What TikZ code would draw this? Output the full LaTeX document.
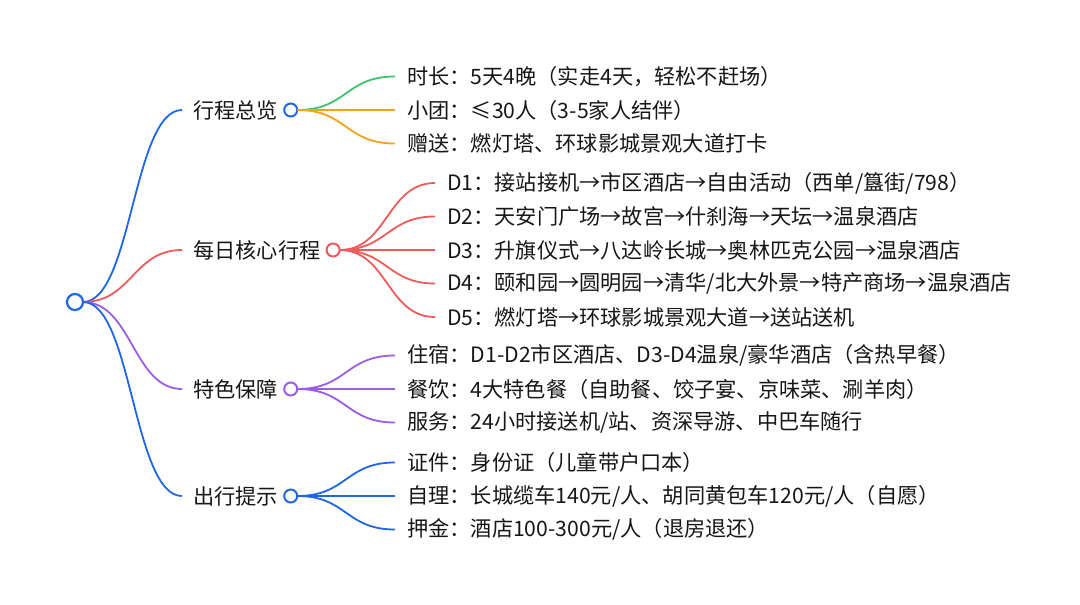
\documentclass[tikz,border=0pt]{standalone}
\usepackage{fontspec}
\setmainfont{Noto Sans CJK SC}
\usepackage{xcolor}
\usetikzlibrary{positioning}

\definecolor{mapblue}{HTML}{1F66E5}
\definecolor{mapred}{HTML}{EF5B5B}
\definecolor{mappurple}{HTML}{9B5DE5}
\definecolor{mapgreen}{HTML}{3DC46E}
\definecolor{maporange}{HTML}{F2A318}
\definecolor{maptext}{HTML}{161616}

\begin{document}
\begin{tikzpicture}[
    x=1pt, y=-1pt,
    node distance = 33.5pt,
    font=\fontsize{21.2pt}{25pt}\selectfont,
    hub/.style = {circle, draw=#1, fill=white, line width=2pt, minimum size=13pt, inner sep=0pt, outer sep=0pt},
    topic/.style = {anchor=west, inner xsep=11pt, inner ysep=0pt, text=maptext},
    leaf/.style = {text width=600pt, align=left, inner xsep=12pt, inner ysep=0pt, text=maptext},
    link/.style = {draw=#1, line width=1.8pt}
]
\useasboundingbox (0,0) rectangle (1080,605);

% Root and main topics
\node (root) [hub=mapblue, minimum size=16pt, line width=2.2pt] at (75,302) {};
\node (b1t) [topic] at (182,110) {行程总览};
\node (b1) [hub=mapblue, right=-5pt of b1t] {};
\node (b2t) [topic] at (182,250) {每日核心行程};
\node (b2) [hub=mapred, right=-5pt of b2t] {};
\node (b3t) [topic] at (182,389) {特色保障};
\node (b3) [hub=mappurple, right=-5pt of b3t] {};
\node (b4t) [topic] at (182,496) {出行提示};
\node (b4) [hub=mapblue, right=-5pt of b4t] {};

% Leaves
\node (l11) [leaf, anchor=west] at (395,76.5) {时长：5天4晚（实走4天，轻松不赶场）};
\node (l12) [leaf, below of=l11] {小团：≤30人（3-5家人结伴）};
\node (l13) [leaf, below of=l12] {赠送：燃灯塔、环球影城景观大道打卡};

\node (l21) [leaf, anchor=west] at (435,183) {D1：接站接机→市区酒店→自由活动（西单/簋街/798）};
\node (l22) [leaf, below of=l21] {D2：天安门广场→故宫→什刹海→天坛→温泉酒店};
\node (l23) [leaf, below of=l22] {D3：升旗仪式→八达岭长城→奥林匹克公园→温泉酒店};
\node (l24) [leaf, below of=l23] {D4：颐和园→圆明园→清华/北大外景→特产商场→温泉酒店};
\node (l25) [leaf, below of=l24] {D5：燃灯塔→环球影城景观大道→送站送机};

\node (l31) [leaf, anchor=west] at (395,355.5) {住宿：D1-D2市区酒店、D3-D4温泉/豪华酒店（含热早餐）};
\node (l32) [leaf, below of=l31] {餐饮：4大特色餐（自助餐、饺子宴、京味菜、涮羊肉）};
\node (l33) [leaf, below of=l32] {服务：24小时接送机/站、资深导游、中巴车随行};

\node (l41) [leaf, anchor=west] at (395,462.5) {证件：身份证（儿童带户口本）};
\node (l42) [leaf, below of=l41] {自理：长城缆车140元/人、胡同黄包车120元/人（自愿）};
\node (l43) [leaf, below of=l42] {押金：酒店100-300元/人（退房退还）};

% Branches
\draw [link=mapblue] (root.east) .. controls +(49,0) and +(-49,0) .. (b1t.west);
\draw [link=mapred] (root.east) .. controls +(49,0) and +(-49,0) .. (b2t.west);
\draw [link=mappurple] (root.east) .. controls +(49,0) and +(-49,0) .. (b3t.west);
\draw [link=mapblue] (root.east) .. controls +(49,0) and +(-49,0) .. (b4t.west);

\draw [link=mapgreen] (b1.east) .. controls +(50,0) and +(-50,0) .. (l11.west);
\draw [link=maporange] (b1.east) -- (l12.west);
\draw [link=maporange] (b1.east) .. controls +(50,0) and +(-50,0) .. (l13.west);

\draw [link=mapred] (b2.east) .. controls +(48,0) and +(-48,0) .. (l21.west);
\draw [link=mapred] (b2.east) .. controls +(48,0) and +(-48,0) .. (l22.west);
\draw [link=mapred] (b2.east) -- (l23.west);
\draw [link=mapred] (b2.east) .. controls +(48,0) and +(-48,0) .. (l24.west);
\draw [link=mapred] (b2.east) .. controls +(48,0) and +(-48,0) .. (l25.west);

\draw [link=mappurple] (b3.east) .. controls +(50,0) and +(-50,0) .. (l31.west);
\draw [link=mappurple] (b3.east) -- (l32.west);
\draw [link=mappurple] (b3.east) .. controls +(50,0) and +(-50,0) .. (l33.west);

\draw [link=mapblue] (b4.east) .. controls +(50,0) and +(-50,0) .. (l41.west);
\draw [link=mapblue] (b4.east) -- (l42.west);
\draw [link=mapblue] (b4.east) .. controls +(50,0) and +(-50,0) .. (l43.west);

\end{tikzpicture}
\end{document}
